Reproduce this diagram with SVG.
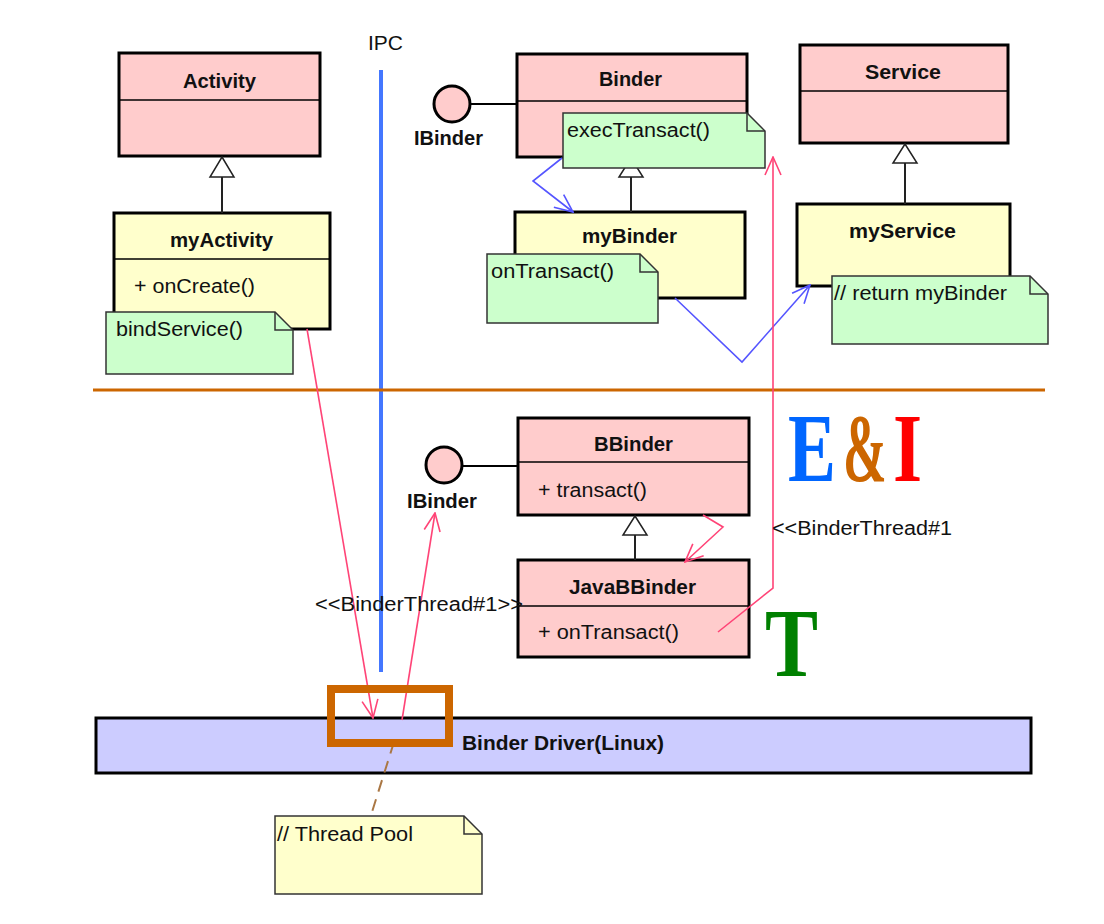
<svg xmlns="http://www.w3.org/2000/svg" width="1104" height="924" viewBox="0 0 1104 924">
<style>
.cls{stroke:#000;stroke-width:3}
.pink{fill:#ffcccc}
.yel{fill:#ffffcc}
.div{stroke:#000;stroke-width:1.5}
.note{stroke:#333;stroke-width:1.5}
.ng{fill:#ccffcc}
.ny{fill:#ffffcc}
.fold{fill:none;stroke:#333;stroke-width:1.5}
.b{font-family:"Liberation Sans",Arial,sans-serif;font-weight:bold;font-size:20px;fill:#111}
.r{font-family:"Liberation Sans",Arial,sans-serif;font-size:20px;fill:#111}
.gen{fill:#fff;stroke:#222;stroke-width:1.5}
.genl{stroke:#222;stroke-width:2;fill:none}
.red{fill:none;stroke:#ff4477;stroke-width:1.6}
.blue{fill:none;stroke:#5555ff;stroke-width:1.6}
.big{font-family:"Liberation Serif","Times New Roman",serif;font-weight:bold;font-size:97px}
</style>
<defs>
<marker id="ar" viewBox="0 0 20 20" refX="19" refY="10" markerWidth="20" markerHeight="20" markerUnits="userSpaceOnUse" orient="auto"><path d="M1,2 L19,10 L1,18" fill="none" stroke="#ff4477" stroke-width="1.6"/></marker>
<marker id="ab" viewBox="0 0 20 20" refX="19" refY="10" markerWidth="20" markerHeight="20" markerUnits="userSpaceOnUse" orient="auto"><path d="M1,2 L19,10 L1,18" fill="none" stroke="#5555ff" stroke-width="1.6"/></marker>
</defs>
<rect width="1104" height="924" fill="#fff"/>

<g id="ipc">
<text class="r" x="368" y="50" textLength="35" lengthAdjust="spacingAndGlyphs">IPC</text>
<line x1="381" y1="70" x2="381" y2="672" stroke="#4477ff" stroke-width="4"/>
</g>

<line id="layer-divider" x1="93" y1="390" x2="1045" y2="390" stroke="#cc6600" stroke-width="3"/>

<g id="Activity">
<rect class="cls pink" x="119" y="53" width="201" height="103"/>
<line class="div" x1="119" y1="100" x2="320" y2="100"/>
<text class="b" x="219.5" y="88" text-anchor="middle" textLength="73" lengthAdjust="spacingAndGlyphs">Activity</text>
</g>

<g id="myActivity">
<rect class="cls yel" x="114" y="213" width="216" height="116"/>
<line class="div" x1="114" y1="259" x2="330" y2="259"/>
<text class="b" x="221.5" y="247" text-anchor="middle" textLength="103" lengthAdjust="spacingAndGlyphs">myActivity</text>
<text class="r" x="134" y="293" textLength="121" lengthAdjust="spacingAndGlyphs">+ onCreate()</text>
</g>

<g id="IBinder1">
<circle cx="452" cy="104" r="18" fill="#ffcccc" stroke="#000" stroke-width="3"/>
<line x1="470" y1="104" x2="518" y2="104" stroke="#000" stroke-width="2"/>
<text class="b" x="448.5" y="145" text-anchor="middle" textLength="69" lengthAdjust="spacingAndGlyphs">IBinder</text>
</g>

<g id="Binder">
<rect class="cls pink" x="517" y="54" width="230" height="103"/>
<line class="div" x1="517" y1="101" x2="747" y2="101"/>
<text class="b" x="630.5" y="86" text-anchor="middle" textLength="63" lengthAdjust="spacingAndGlyphs">Binder</text>
</g>

<g id="myBinder">
<rect class="cls yel" x="515" y="212" width="230" height="86"/>
<text class="b" x="629.5" y="243" text-anchor="middle" textLength="95" lengthAdjust="spacingAndGlyphs">myBinder</text>
</g>

<g id="Service">
<rect class="cls pink" x="800" y="45" width="208" height="98"/>
<line class="div" x1="800" y1="91" x2="1008" y2="91"/>
<text class="b" x="903" y="79" text-anchor="middle" textLength="76" lengthAdjust="spacingAndGlyphs">Service</text>
</g>

<g id="myService">
<rect class="cls yel" x="797" y="204" width="213" height="82"/>
<text class="b" x="902.5" y="238" text-anchor="middle" textLength="107" lengthAdjust="spacingAndGlyphs">myService</text>
</g>

<g id="IBinder2">
<circle cx="444" cy="465" r="18" fill="#ffcccc" stroke="#000" stroke-width="3"/>
<line x1="462" y1="466" x2="518" y2="466" stroke="#000" stroke-width="2"/>
<text class="b" x="442" y="508" text-anchor="middle" textLength="70" lengthAdjust="spacingAndGlyphs">IBinder</text>
</g>

<g id="BBinder">
<rect class="cls pink" x="518" y="418" width="231" height="97"/>
<line class="div" x1="518" y1="462" x2="749" y2="462"/>
<text class="b" x="633.5" y="451" text-anchor="middle" textLength="79" lengthAdjust="spacingAndGlyphs">BBinder</text>
<text class="r" x="538" y="497" textLength="109" lengthAdjust="spacingAndGlyphs">+ transact()</text>
</g>

<g id="JavaBBinder">
<rect class="cls pink" x="518" y="560" width="231" height="97"/>
<line class="div" x1="518" y1="606" x2="749" y2="606"/>
<text class="b" x="632.5" y="594" text-anchor="middle" textLength="127" lengthAdjust="spacingAndGlyphs">JavaBBinder</text>
<text class="r" x="538" y="639" textLength="141" lengthAdjust="spacingAndGlyphs">+ onTransact()</text>
</g>

<g id="BinderDriver">
<rect x="96" y="718" width="935" height="55" fill="#ccccff" stroke="#000" stroke-width="3"/>
<text class="b" x="462" y="750" textLength="202" lengthAdjust="spacingAndGlyphs">Binder Driver(Linux)</text>
</g>

<g id="connectors">
<path class="genl" d="M222,177 V213 M631,177 V212 M905,163 V204 M635,535 V560"/>
<path class="gen" d="M222,157 L234,177 H210 Z M631,158 L643,177 H619 Z M905,144 L917,163 H893 Z M635,516 L647,535 H623 Z"/>
<path class="blue" d="M562,158 L533,181 L573,212" marker-end="url(#ab)"/>
<path class="blue" d="M675,298 L742,362 L810,285" marker-end="url(#ab)"/>
<path class="red" d="M718,632 L773,588 L773,157" marker-end="url(#ar)"/>
<path class="red" d="M703,515 L723,527 L685,562" marker-end="url(#ar)"/>
<path class="red" d="M307,329 L373,718" marker-end="url(#ar)"/>
<path class="red" d="M402,720 L435,513" marker-end="url(#ar)"/>
<line x1="394" y1="742" x2="372" y2="812" stroke="#aa7744" stroke-width="2" stroke-dasharray="12,8"/>
</g>

<g id="note-bindService">
<path class="note ng" d="M106,312 H275 L293,330 V374 H106 Z"/>
<path class="fold" d="M275,312 V330 H293"/>
<text class="r" x="116" y="336" textLength="127" lengthAdjust="spacingAndGlyphs">bindService()</text>
</g>

<g id="note-execTransact">
<path class="note ng" d="M563,113 H747 L765,131 V168 H563 Z"/>
<path class="fold" d="M747,113 V131 H765"/>
<text class="r" x="567" y="137" textLength="143" lengthAdjust="spacingAndGlyphs">execTransact()</text>
</g>

<g id="note-onTransact">
<path class="note ng" d="M487,254 H640 L658,272 V323 H487 Z"/>
<path class="fold" d="M640,254 V272 H658"/>
<text class="r" x="491" y="278" textLength="123" lengthAdjust="spacingAndGlyphs">onTransact()</text>
</g>

<g id="note-return">
<path class="note ng" d="M832,276 H1030 L1048,294 V344 H832 Z"/>
<path class="fold" d="M1030,276 V294 H1048"/>
<text class="r" x="834" y="300" textLength="173" lengthAdjust="spacingAndGlyphs">// return myBinder</text>
</g>

<g id="note-threadpool">
<path class="note ny" d="M275,816 H464 L482,834 V894 H275 Z"/>
<path class="fold" d="M464,816 V834 H482"/>
<text class="r" x="277" y="841" textLength="136" lengthAdjust="spacingAndGlyphs">// Thread Pool</text>
</g>

<g id="labels">
<text class="r" x="315" y="611" textLength="208" lengthAdjust="spacingAndGlyphs">&lt;&lt;BinderThread#1&gt;&gt;</text>
<text class="r" x="772" y="535" textLength="180" lengthAdjust="spacingAndGlyphs">&lt;&lt;BinderThread#1</text>
</g>

<rect id="threadpool-highlight" x="331" y="689" width="118" height="54" fill="none" stroke="#cc6600" stroke-width="8"/>

<g id="EI">
<text class="big" transform="translate(788,481) scale(0.74,1)" fill="#0066ff">E</text>
<text class="big" transform="translate(843,481) scale(0.54,1)" fill="#cc6600">&amp;</text>
<text class="big" transform="translate(893,481) scale(0.77,1)" fill="#ff0000">I</text>
<text class="big" transform="translate(765,676) scale(0.82,1)" fill="#008000">T</text>
</g>
</svg>
